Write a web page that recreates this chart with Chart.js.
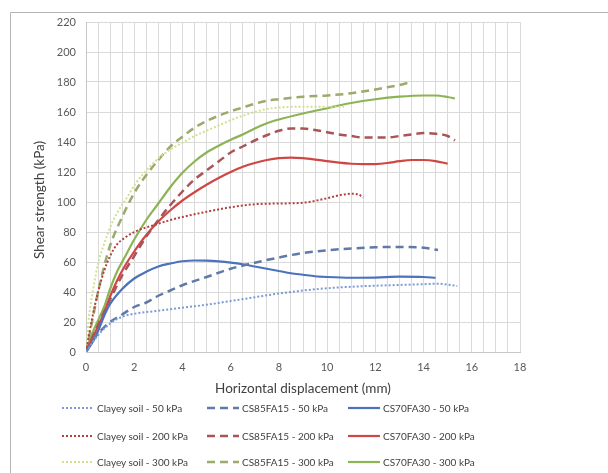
<!DOCTYPE html>
<html>
<head>
<meta charset="utf-8">
<script src="https://cdn.jsdelivr.net/npm/chart.js@4.4.1/dist/chart.umd.min.js"></script>
<style>
  body { margin: 0; background: #fff; overflow: hidden; }
  #wrap { position: relative; width: 608px; height: 473px; overflow: hidden; }
  #legend { position: absolute; left: 0; top: 0; width: 608px; height: 473px; pointer-events: none;
            font-family: Lato, "Liberation Sans", sans-serif; font-size: 10px; color: #404040; }
  .item { position: absolute; display: flex; align-items: center; white-space: nowrap; }
  .item svg { margin-right: 3px; }
</style>
</head>
<body>
<div id="wrap">
  <canvas id="shearChart" width="608" height="473"></canvas>
  <div id="legend"></div>
</div>
<script>
// Displacement (mm) and shear strength (kPa)
const clay50X  = [0, 0.3, 0.6, 1, 1.5, 2, 3, 4, 5, 6, 7, 8, 9, 10, 11, 12, 13, 14, 14.6, 15.4];
const clay50Y  = [0, 7, 13, 19, 23.5, 25.5, 27.5, 29.5, 31.5, 34, 36.5, 39, 41, 42.5, 43.5, 44.2, 44.7, 45.2, 45.5, 44];
const cs85_50X = [0, 0.3, 0.6, 1, 1.5, 2, 2.5, 3, 3.5, 4, 5, 6, 7, 8, 9, 10, 11, 12, 13, 14, 14.6];
const cs85_50Y = [0, 8, 14, 20, 25, 30, 33, 37.5, 41, 44.5, 50, 55.5, 59.5, 63, 66, 67.8, 69, 69.8, 70, 69.5, 68];
const cs70_50X = [0, 0.25, 0.5, 0.75, 1, 1.5, 2, 2.5, 3, 3.5, 4, 4.5, 5, 5.5, 6, 6.5, 7, 7.5, 8, 8.5, 9, 9.5, 10, 11, 12, 13, 14, 14.5];
const cs70_50Y = [0, 6, 14, 24, 32, 42, 49, 53.5, 57, 59, 60.5, 61, 60.9, 60.4, 59.6, 58.5, 57, 55.5, 54, 52.5, 51.5, 50.5, 50, 49.5, 49.6, 50.2, 50, 49.5];

const clay200X  = [0, 0.25, 0.5, 0.75, 1, 1.3, 1.6, 2, 2.5, 3, 3.5, 4, 5, 6, 7, 8, 9, 10, 10.5, 11, 11.3, 11.5];
const clay200Y  = [0, 22, 40, 54, 64, 72, 76, 80, 83, 85.5, 88, 90, 93.5, 96.5, 98.5, 99, 99.5, 102.5, 104.5, 105.5, 105, 103];
const cs85_200X = [0, 0.5, 1, 1.5, 2, 2.5, 3, 3.5, 4, 4.5, 5, 5.5, 6, 6.5, 7, 7.5, 8, 8.5, 9, 9.5, 10, 10.5, 11, 11.5, 12, 12.5, 13, 13.5, 14, 14.5, 15, 15.3];
const cs85_200Y = [0, 18, 35, 51, 64, 77, 88, 98, 107, 115, 121, 127, 133, 137, 141, 144.5, 147.5, 149, 149, 148, 146.5, 145, 144, 143, 143, 143, 144, 145, 146, 145.5, 144, 141];
const cs70_200X = [0, 0.25, 0.5, 0.75, 1, 1.3, 1.6, 2, 2.5, 3, 3.5, 4, 4.5, 5, 5.5, 6, 6.5, 7, 7.5, 8, 8.5, 9, 9.5, 10, 10.5, 11, 11.5, 12, 12.5, 13, 13.5, 14, 14.5, 15];
const cs70_200Y = [0, 9, 17, 26, 37, 48, 57, 67, 78, 87, 94.5, 101, 106.5, 111.5, 116, 120, 123.5, 126, 128, 129.3, 129.6, 129.2, 128.3, 127.2, 126.2, 125.5, 125.2, 125.3, 126, 127.2, 128, 128, 127.3, 125.5];

const clay300X  = [0, 0.1, 0.3, 0.5, 0.75, 1, 1.3, 1.7, 2, 2.5, 3, 3.5, 4, 4.5, 5, 5.5, 6, 6.5, 7, 7.5, 8, 9, 10, 10.7];
const clay300Y  = [0, 20, 42, 59, 72, 83, 93, 103, 111, 121, 129, 135, 139.5, 144, 147.5, 151, 154.5, 157.5, 160, 162, 163, 163.5, 163.5, 163.5];
const cs85_300X = [0, 0.25, 0.5, 0.75, 1, 1.5, 2, 2.5, 3, 3.5, 4, 4.5, 5, 5.5, 6, 6.5, 7, 7.5, 8, 9, 10, 11, 12, 12.5, 13, 13.5];
const cs85_300Y = [0, 20, 40, 57, 71, 90, 106, 118, 128, 137, 143.5, 149.5, 154, 157.5, 160.5, 163, 165.5, 167.5, 168.5, 170.2, 171, 172.5, 175, 176.5, 178, 180];
const cs70_300X = [0, 0.25, 0.5, 0.75, 1, 1.3, 1.6, 2, 2.5, 3, 3.5, 4, 4.5, 5, 5.5, 6, 6.5, 7, 7.5, 8, 9, 10, 11, 12, 13, 14, 14.5, 15, 15.3];
const cs70_300Y = [0, 12, 21, 30, 42, 54, 63, 75, 88, 99, 110, 119.5, 127, 133, 137.5, 141.5, 145, 149, 152.5, 155, 159, 162.5, 166, 168.5, 170.2, 171, 171, 170, 169];

const seriesNames = [
  'Clayey soil - 50 kPa', 'CS85FA15 - 50 kPa', 'CS70FA30 - 50 kPa',
  'Clayey soil - 200 kPa', 'CS85FA15 - 200 kPa', 'CS70FA30 - 200 kPa',
  'Clayey soil - 300 kPa', 'CS85FA15 - 300 kPa', 'CS70FA30 - 300 kPa'
];
const xTicks = [0, 2, 4, 6, 8, 10, 12, 14, 16, 18];
const yTicks = [0, 20, 40, 60, 80, 100, 120, 140, 160, 180, 200, 220];

function pts(xs, ys) {
    return xs.map((x, i) => ({ x: x, y: ys[i] }));
}

const dotted = [2, 2];
const dashed = [8, 5];

function series(label, xs, ys, color, dash, width) {
    return {
        label: label,
        data: pts(xs, ys),
        borderColor: color,
        borderWidth: width,
        borderDash: dash,
        pointRadius: 0,
        tension: 0.4,
        cubicInterpolationMode: 'monotone',
        fill: false
    };
}

const datasets = [
    series(seriesNames[0], clay50X, clay50Y, '#7d9bd6', dotted, 2),
    series(seriesNames[1], cs85_50X, cs85_50Y, '#5f7aa6', dashed, 2.5),
    series(seriesNames[2], cs70_50X, cs70_50Y, '#4a72bd', [], 2.2),
    series(seriesNames[3], clay200X, clay200Y, '#b2403f', dotted, 2),
    series(seriesNames[4], cs85_200X, cs85_200Y, '#a95456', dashed, 2.5),
    series(seriesNames[5], cs70_200X, cs70_200Y, '#cf4745', [], 2.2),
    series(seriesNames[6], clay300X, clay300Y, '#d3e08f', dotted, 2),
    series(seriesNames[7], cs85_300X, cs85_300Y, '#9aab6c', dashed, 2.5),
    series(seriesNames[8], cs70_300X, cs70_300Y, '#8cb454', [], 2.2)
];

const fontFamily = 'Lato, "Liberation Sans", sans-serif';
const tickFont = { family: fontFamily, size: 11 };
const gridColor = '#dadada';

// outer frame of the figure, and the y title a little below the axis centre
const decor = {
    id: 'decor',
    beforeDraw(chart) {
        const c = chart.ctx;
        c.save();
        c.strokeStyle = '#b4b4b4';
        c.lineWidth = 1;
        c.beginPath();
        c.moveTo(10.5, 480);
        c.lineTo(10.5, 12.5);
        c.lineTo(620, 12.5);
        c.stroke();
        c.restore();
    },
    afterDraw(chart) {
        const c = chart.ctx;
        c.save();
        c.translate(40, 200);
        c.rotate(-Math.PI / 2);
        c.font = '13.5px ' + fontFamily;
        c.fillStyle = '#404040';
        c.textAlign = 'center';
        c.textBaseline = 'middle';
        c.fillText('Shear strength (kPa)', 0, 0);
        c.restore();
    }
};

const shearCtx = document.getElementById('shearChart').getContext('2d');
const shearChart = new Chart(shearCtx, {
    type: 'line',
    data: { datasets: datasets },
    options: {
        responsive: false,
        animation: false,
        layout: { padding: { left: 30, right: 88, top: 22, bottom: 76 } },
        plugins: {
            legend: { display: false },
            tooltip: { enabled: false }
        },
        scales: {
            x: {
                type: 'linear',
                min: 0,
                max: 18,
                afterBuildTicks: (axis) => {
                    const t = [];
                    for (let v = 0; v <= 36; v++) t.push({ value: v / 2 });
                    axis.ticks = t;
                },
                ticks: {
                    autoSkip: false,
                    maxRotation: 0,
                    font: tickFont,
                    color: '#595959',
                    padding: 9,
                    callback: (v) => xTicks.includes(v) ? String(v) : ''
                },
                grid: { color: gridColor, drawTicks: false },
                border: { color: '#c8c8c8' },
                title: {
                    display: true,
                    text: 'Horizontal displacement (mm)',
                    font: { family: fontFamily, size: 13.5 },
                    color: '#404040',
                    padding: { top: 5, bottom: 0 }
                },
                afterFit: (axis) => { axis.height = 45; }
            },
            y: {
                min: 0,
                max: 220,
                afterBuildTicks: (axis) => {
                    axis.ticks = yTicks.map(v => ({ value: v }));
                },
                ticks: { font: tickFont, color: '#595959', padding: 10 },
                grid: { color: gridColor, drawTicks: false },
                border: { color: '#c8c8c8' },
                title: { display: false },
                afterFit: (axis) => { axis.width = 56; }
            }
        }
    },
    plugins: [decor]
});

// legend in three columns, built from the chart's datasets
const legendEl = document.getElementById('legend');
const colX = [62, 207, 348];
const rowY = [408, 436, 462];
shearChart.data.datasets.forEach((ds, i) => {
    const item = document.createElement('div');
    item.className = 'item';
    item.style.left = colX[i % 3] + 'px';
    item.style.top = (rowY[Math.floor(i / 3)] - 7) + 'px';
    const dash = ds.borderDash.length ? ds.borderDash.join(',') : 'none';
    item.innerHTML = '<svg width="32" height="14"><line x1="0" y1="7" x2="32" y2="7" stroke="' +
        ds.borderColor + '" stroke-width="' + ds.borderWidth + '" stroke-dasharray="' + dash + '"/></svg>' +
        '<span>' + ds.label + '</span>';
    legendEl.appendChild(item);
});
</script>
</body>
</html>
